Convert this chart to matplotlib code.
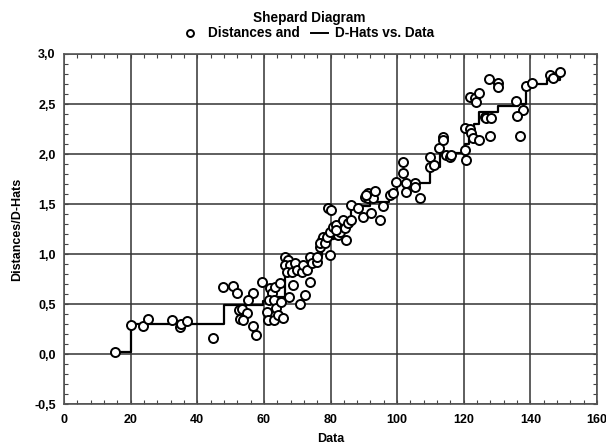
import matplotlib
matplotlib.use('Agg')
import matplotlib.pyplot as plt
from matplotlib.lines import Line2D
from matplotlib.ticker import MultipleLocator, FuncFormatter

# Data (distances vs. data)
data_x = [15.3, 20.0, 23.8, 25.1, 32.3, 34.8, 35.1, 37.0, 44.8, 47.8,
          50.6, 51.8, 52.6, 52.8, 56.6, 55.2, 53.3, 54.8, 53.8, 56.8,
          57.5, 59.3, 61.8, 62.3, 63.3, 64.8, 61.5, 63.0, 60.8, 63.6,
          65.0, 61.3, 63.0, 64.3, 65.8, 67.6, 68.8, 70.8, 72.3, 73.8,
          66.3, 67.3, 66.3, 67.8, 66.8, 68.3, 69.3, 69.8, 71.3, 71.8,
          72.8, 73.8, 74.3, 75.8, 75.8, 76.8, 77.3, 77.8, 76.8, 78.3,
          78.8, 79.8, 79.8, 80.8, 81.8, 82.3, 82.8, 81.8, 83.8, 84.3,
          84.8, 85.3, 86.3, 79.3, 80.3, 86.3, 88.3, 89.8, 90.3, 91.3,
          91.3, 92.3, 92.8, 93.3, 94.8, 95.8, 97.8, 98.8, 99.8, 90.8,
          101.8, 101.8, 102.6, 102.8, 105.3, 105.3, 107.0, 109.8, 109.8, 111.0,
          112.6, 113.8, 113.8, 114.8, 115.8, 116.3, 120.3, 120.8, 120.3, 121.8,
          122.3, 122.8, 124.6, 121.8, 123.3, 124.6, 123.8, 126.3, 126.8, 128.3,
          127.8, 127.6, 130.3, 130.3, 135.8, 137.8, 136.0, 137.0, 138.6, 140.6,
          145.8, 146.8, 149.0]
distances = [0.02, 0.29, 0.28, 0.35, 0.34, 0.27, 0.30, 0.33, 0.16, 0.67,
             0.68, 0.61, 0.44, 0.35, 0.61, 0.54, 0.45, 0.41, 0.34, 0.28,
             0.19, 0.72, 0.66, 0.61, 0.67, 0.71, 0.54, 0.54, 0.42, 0.46,
             0.52, 0.34, 0.34, 0.39, 0.36, 0.57, 0.69, 0.50, 0.59, 0.72,
             0.97, 0.94, 0.89, 0.89, 0.82, 0.82, 0.91, 0.84, 0.82, 0.89,
             0.84, 0.97, 0.91, 0.92, 0.97, 1.07, 1.14, 1.17, 1.11, 1.11,
             1.17, 0.99, 1.22, 1.27, 1.29, 1.19, 1.22, 1.24, 1.34, 1.26,
             1.14, 1.31, 1.34, 1.46, 1.44, 1.49, 1.46, 1.37, 1.57, 1.61,
             1.56, 1.41, 1.56, 1.63, 1.34, 1.48, 1.59, 1.61, 1.72, 1.59,
             1.92, 1.81, 1.71, 1.62, 1.71, 1.67, 1.56, 1.97, 1.87, 1.89,
             2.06, 2.17, 2.14, 1.99, 1.97, 1.99, 2.04, 1.94, 2.26, 2.25,
             2.21, 2.16, 2.14, 2.57, 2.56, 2.61, 2.52, 2.37, 2.36, 2.36,
             2.18, 2.75, 2.71, 2.67, 2.53, 2.44, 2.38, 2.18, 2.68, 2.71,
             2.79, 2.76, 2.82]

# D-hats (monotone step line)
dhat_x = [15.3, 20.0, 48.0, 59.6, 63.0, 66.2, 72.3, 74.0, 76.0, 77.5,
          79.0, 81.0, 83.0, 85.0, 86.3, 92.0, 97.5, 100.0, 110.0, 112.8,
          120.3, 121.5, 123.0, 124.5, 130.3, 136.3, 138.6, 145.0, 149.0]
dhat_y = [0.02, 0.30, 0.49, 0.53, 0.57, 0.80, 0.86, 0.92, 0.98, 1.07,
          1.15, 1.22, 1.28, 1.34, 1.48, 1.52, 1.60, 1.71, 1.87, 2.01,
          2.10, 2.22, 2.30, 2.42, 2.48, 2.50, 2.70, 2.74, 2.78]

plt.rcParams['font.family'] = ['Liberation Sans', 'DejaVu Sans']

fig = plt.figure(figsize=(6.06, 4.48), dpi=100)
ax = fig.add_axes([64 / 606, 1 - 404 / 448, 533 / 606, 350 / 448])

ax.set_xlim(0, 160)
ax.set_ylim(-0.5, 3.0)
ax.xaxis.set_major_locator(MultipleLocator(20))
ax.xaxis.set_minor_locator(MultipleLocator(4))
ax.yaxis.set_major_locator(MultipleLocator(0.5))
ax.yaxis.set_minor_locator(MultipleLocator(0.1))
ax.yaxis.set_major_formatter(FuncFormatter(lambda v, p: f'{v:.1f}'.replace('.', ',')))
ax.grid(True, which='major', color='#333333', linewidth=1.1)
ax.set_axisbelow(True)
ax.tick_params(which='both', direction='in', top=True, right=True,
               labelsize=9, color='#444444', width=0.8)
ax.tick_params(which='major', length=3)
ax.tick_params(axis='x', which='major', pad=7)
ax.tick_params(axis='y', which='major', pad=6)
ax.tick_params(which='minor', length=3)
for lab in ax.get_xticklabels() + ax.get_yticklabels():
    lab.set_fontweight('bold')
for s in ax.spines.values():
    s.set_color('#555555')
    s.set_linewidth(1.2)

ax.plot(dhat_x + [dhat_x[-1] + 0.5], dhat_y + [dhat_y[-1]], drawstyle='steps-post',
        color='black', linewidth=1.6, zorder=3)
ax.plot(data_x, distances, linestyle='none', marker='o', markersize=6.5,
        markerfacecolor='white', markeredgecolor='black', markeredgewidth=1.4, zorder=4)

ax.set_xlabel('Data', fontsize=9, fontweight='bold', labelpad=5)
ax.set_ylabel('Distances/D-Hats', fontsize=9, fontweight='bold', labelpad=8)

# title and legend line
fig.text(309 / 606, 1 - 18 / 448, 'Shepard Diagram', ha='center', va='center',
         fontsize=9.8, fontweight='bold')
ly = 1 - 33 / 448
fig.add_artist(Line2D([190 / 606], [ly], marker='o', markersize=5,
                      markerfacecolor='white', markeredgecolor='black',
                      markeredgewidth=1.4, transform=fig.transFigure))
fig.text(208 / 606, ly, 'Distances and', ha='left', va='center',
         fontsize=9.8, fontweight='bold')
fig.add_artist(Line2D([311 / 606, 328 / 606], [ly, ly], color='black',
                      linewidth=1.4, transform=fig.transFigure))
fig.text(335 / 606, ly, 'D-Hats vs. Data', ha='left', va='center',
         fontsize=9.8, fontweight='bold')

fig.savefig('out.png', dpi=100)
